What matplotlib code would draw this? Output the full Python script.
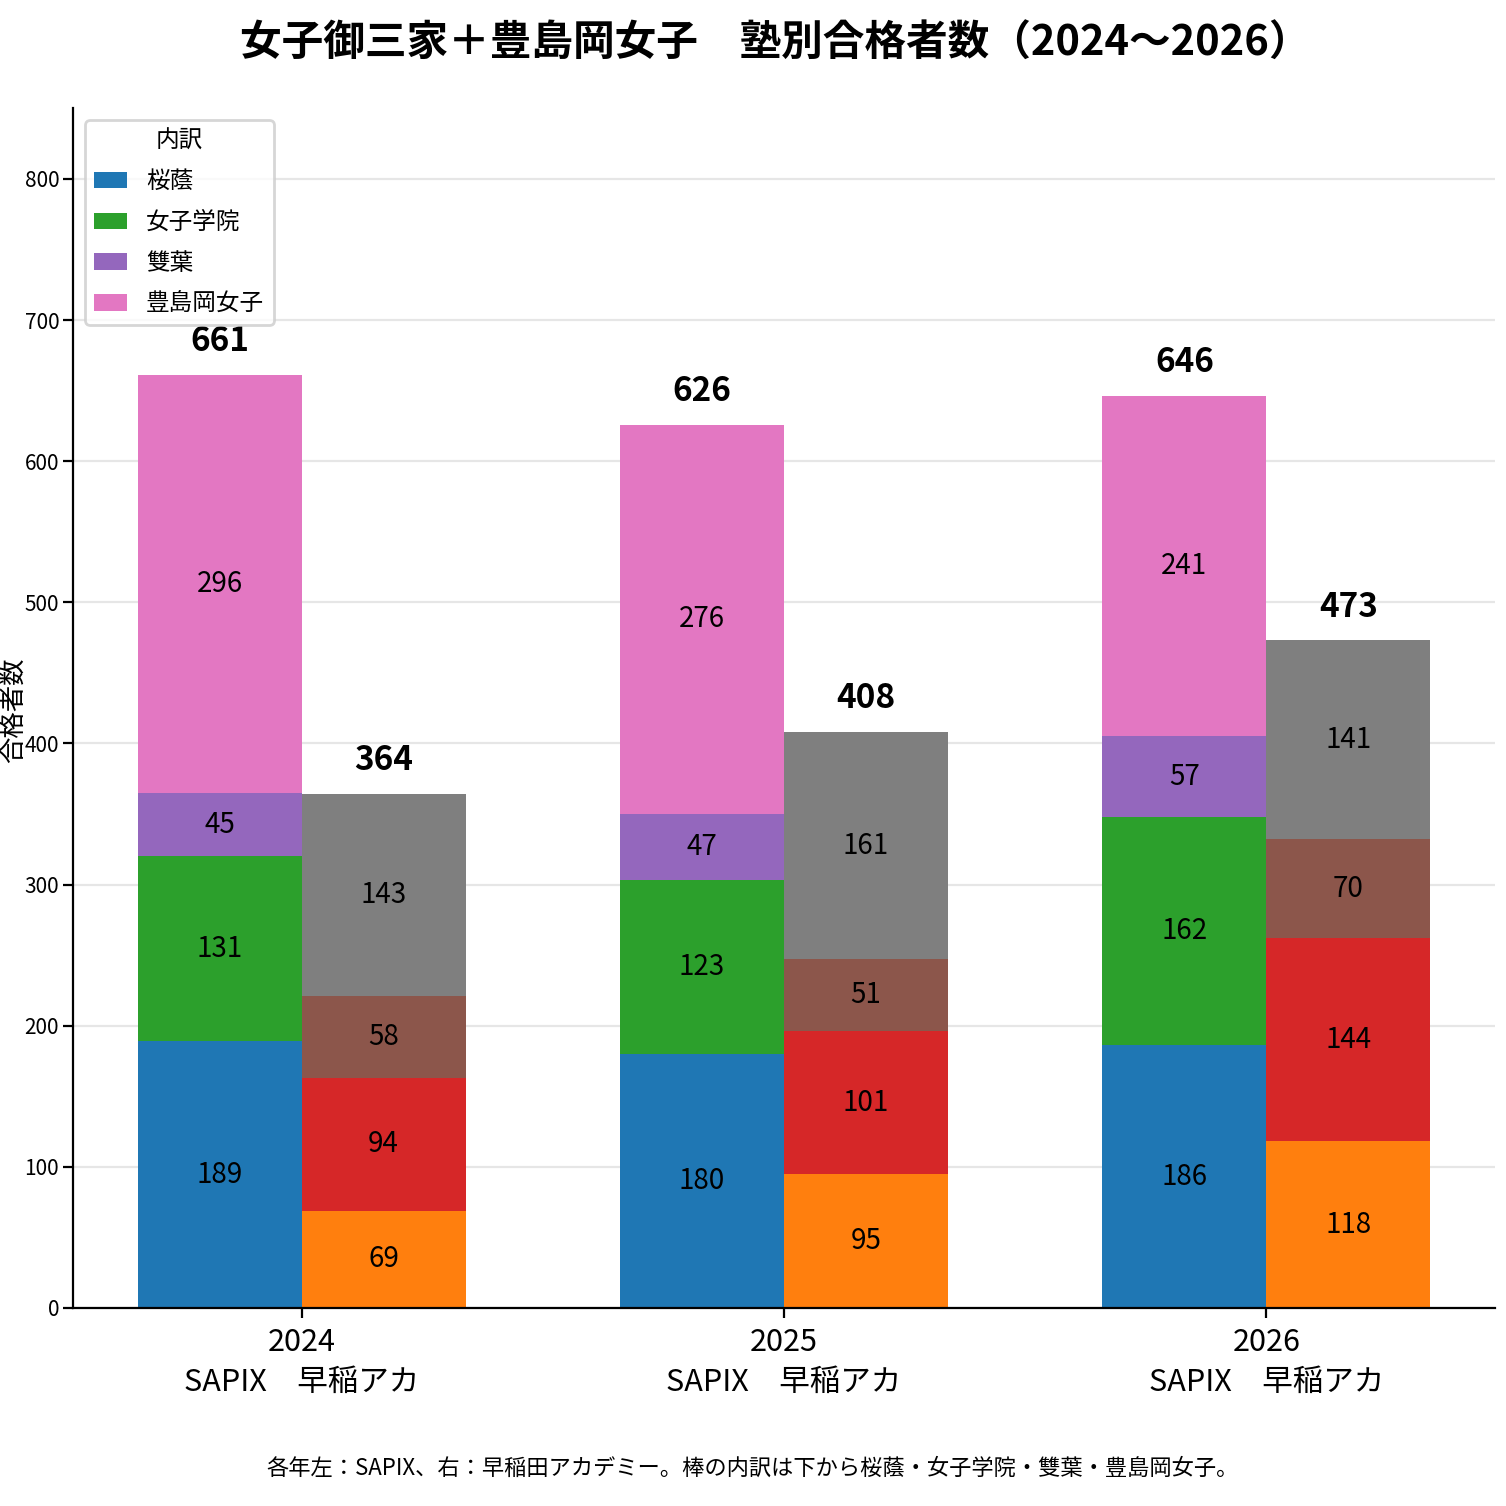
import numpy as np
import matplotlib
matplotlib.use("Agg")
import matplotlib.pyplot as plt

plt.rcParams['font.family'] = ['Noto Sans CJK JP', 'DejaVu Sans']

years = ["2024", "2025", "2026"]
schools = ["桜蔭", "女子学院", "雙葉", "豊島岡女子"]
# SAPIX (left bars), bottom to top
sapix_ouin = [189, 180, 186]
sapix_jg = [131, 123, 162]
sapix_futaba = [45, 47, 57]
sapix_toshima = [296, 276, 241]
# 早稲田アカデミー (right bars)
wase_ouin = [69, 95, 118]
wase_jg = [94, 101, 144]
wase_futaba = [58, 51, 70]
wase_toshima = [143, 161, 141]

sapix_colors = ["#1f77b4", "#2ca02c", "#9467bd", "#e377c2"]
wase_colors = ["#ff7f0e", "#d62728", "#8c564b", "#7f7f7f"]

sapix = [sapix_ouin, sapix_jg, sapix_futaba, sapix_toshima]
wase = [wase_ouin, wase_jg, wase_futaba, wase_toshima]

fig = plt.figure(figsize=(7.53, 7.53), dpi=200)
ax = fig.add_axes([0.0485, 0.1315, 0.9442, 0.7965])

x = np.arange(len(years))
w = 0.34

def stack(xpos, series, colors, labels=None):
    bottom = np.zeros(len(years))
    for i, vals in enumerate(series):
        vals = np.array(vals)
        bars = ax.bar(xpos, vals, w, bottom=bottom, color=colors[i],
                      label=labels[i] if labels else None, zorder=2)
        for b, v, b0 in zip(bars, vals, bottom):
            ax.text(b.get_x() + b.get_width() / 2, b0 + v / 2, str(v),
                    ha="center", va="center", fontsize=10, zorder=3)
        bottom = bottom + vals
    for xp, t in zip(xpos, bottom):
        ax.text(xp, t + 12, str(int(t)), ha="center", va="bottom",
                fontsize=12, fontweight="bold", zorder=3)

stack(x - w / 2, sapix, sapix_colors, schools)
stack(x + w / 2, wase, wase_colors)

ax.set_ylim(0, 850)
ax.set_yticks(np.arange(0, 801, 100))
ax.set_xticks(x)
ax.set_xticklabels([f"{y}\nSAPIX　早稲アカ" for y in years], fontsize=11,
                   linespacing=1.35)
ax.tick_params(axis="y", labelsize=7.5, pad=1.5)
ax.yaxis.grid(True, color="#e6e6e6", linewidth=0.8, zorder=0)
ax.set_axisbelow(True)
for s in ["top", "right"]:
    ax.spines[s].set_visible(False)

# y label placed by hand so it stays inside the figure
fig.text(13 / 1506, 1 - 710 / 1506, "合格者数", rotation=90,
         ha="center", va="center", fontsize=9.5)

ax.legend(title="内訳", loc="upper left", fontsize=8.5, title_fontsize=8.5,
          handlelength=1.4, labelspacing=0.75)

fig.suptitle("女子御三家＋豊島岡女子　塾別合格者数（2024〜2026）",
             x=0.515, y=0.985, fontsize=15, fontweight="bold")
fig.text(0.5, 0.025, "各年左：SAPIX、右：早稲田アカデミー。棒の内訳は下から桜蔭・女子学院・雙葉・豊島岡女子。",
         ha="center", va="center", fontsize=8)

fig.savefig("out.png", dpi=200)
